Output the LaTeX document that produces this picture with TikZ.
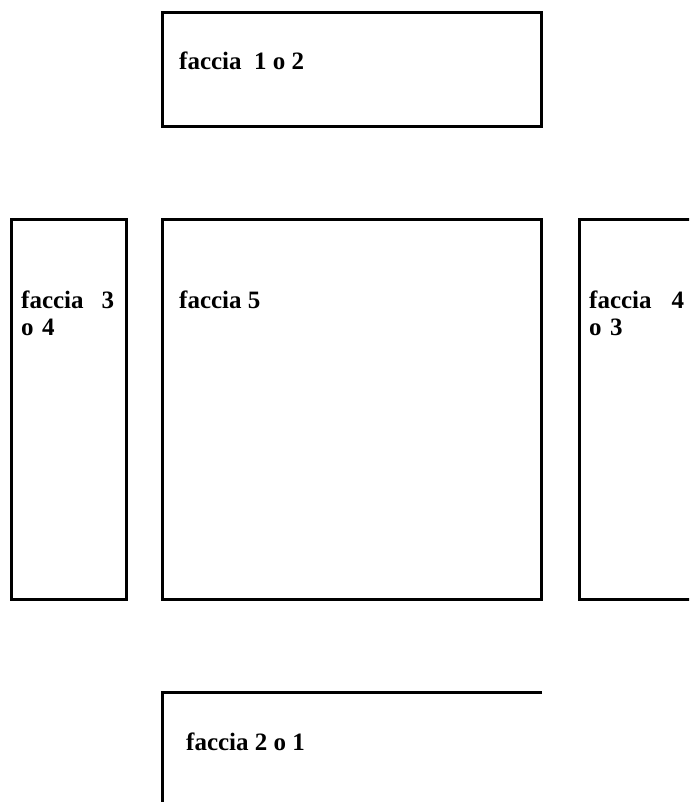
\documentclass[tikz,border=0pt]{standalone}
\usepackage{fontspec}
\setmainfont{Liberation Serif}
\begin{document}
\begin{tikzpicture}[x=1pt,y=-1pt,
  face/.style={line width=3pt, line join=miter},
  lab/.style={anchor=base west, inner sep=0pt, font=\bfseries\fontsize{25}{27}\selectfont},
  sidelab/.style={lab, align=left}]
\useasboundingbox (0,0) rectangle (689,802);
\clip (0,0) rectangle (689,802);
% boxes
\draw[face] (162,13) rectangle (541,127);
\draw[face] (11,220) rectangle (126,599);
\draw[face] (162,220) rectangle (541,599);
\draw[face] (700,220) -- (579,220) -- (579,599) -- (700,599);
\draw[face] (542,692) -- (162,692) -- (162,815);
% labels
\node[lab] (t12) at (179,70) {faccia\ \ 1 o 2};
\node[lab] (t5) at (179,308) {faccia 5};
\node[sidelab, text width=93pt] (t34) at (21,308) {faccia\hfill 3\\o 4};
\node[sidelab, text width=95pt] (t43) at (589,308) {faccia\hfill 4\\o 3};
\node[lab] (t21) at (186,750) {faccia 2 o 1};
\end{tikzpicture}
\end{document}
